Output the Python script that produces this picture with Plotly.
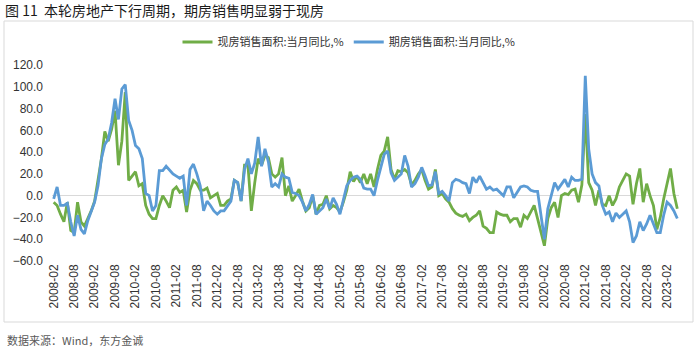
import plotly.graph_objects as go

# month categories 2008-02 .. 2023-05
months = []
y, m = 2008, 2
while (y, m) <= (2023, 5):
    months.append(f"{y}-{m:02d}")
    m += 1
    if m > 12:
        m = 1
        y += 1

tick_labels = months[::6]

existing_yoy = [
    -6, -9, -17, -24, -6, -32, -34, -6, -24, -28, -21, -14, -5, 15, 34, 59, 50, 61, 78, 28,
    50, 95, 14, 18, 22, 9, 11, -9, -17, -21, -21, -9, 0, -5, -11, 5, 8, 3, 5, -15,
    5, 14, 11,
    5, 5, 7, -2, 0, 2, -9, -9, -5, -3, 14, 12, -5, 28, 28, -14, 12, 34, 28, 37,
    35, 20, 17, 20, 35, 0, 9, -5, 0, 6, -5, -14, -11, 0, -17, -9, -8, 0, -12, -9,
    -11, -15, -6, 5, 22, 13, 18, 12, 20, 11, 20, 8, 24, 37, 41, 54, 24, 15, 23, 22,
    24, 21, 10, 14, 20, 24, 14, 6, 8, 24, 0, 2, -3,
    -6, -12, -16, -18, -19, -17, -23, -20, -18, -14, -28, -30, -34, -34, -15, -17, -18, -18, -24, -21,
    -21, -29, -18, -21, -15, -9, -21, -34, -46, -21, -11, -6, -20, 0, 2, 1, 5, 6, -6, 10,
    75, 12, 5, -9, 5, -8, -9, 0, -9, -3, 8, 14, 20, 18, -8, 11, 25, -6, 11, 0,
    -9, -31, -20, -3, 11, 25, 2, -12,
]

presale_yoy = [
    -3, 8, -9, -9, -7, -24, -37, -18, -31, -35, -23, -15, -6, 9, 34, 47, 52, 67, 89, 70,
    98, 102, 69, 60, 46, 43, 34, 2, 0, -14, -9, 23, 23, 27, 23, 20, 18, 16, 18, -9,
    24, 29, 20,
    9, -14, -5, -9, -14, -17, -14, -14, -9, -5, 14, 12, -5, 24, 34, 20, 30, 54, 27, 43,
    31, 8, 11, 8, 20, 17, 16, 3, 2, 0, -6, -14, -8, 1, -17, -14, -11, -3, -12, -2,
    -8, -17, -5, 9, 14, 17, 18, 15, 7, 6, 6, 0, 14, 27, 38, 41, 21, 14, 17, 20,
    37, 27, 8, 11, 17, 26, 18, 9, 10, 22, 2, 4, 0,
    -5, 12, 15, 14, 12, 11, 2, 17, 12, 18, 12, 6, 8, 5, 6, 3, 0, 8, 8, -2,
    3, 8, 9, 8, 5, 4, 4, -18, -40, -12, 0, 12, 6, 11, 15, 8, 17, 14, 14, 15,
    110, 43, 20, 12, 9, -9, -17, -15, -24, -16, -20, -17, -14, -24, -43, -37, -24, -32, -26, -18,
    -26, -34, -34, -18, -6, -9, -14, -21,
]

series_names = ["现房销售面积:当月同比,%", "期房销售面积:当月同比,%"]
colors = ["#70ad47", "#5b9bd5"]

W, H = 700, 351
L, R, T, B = 52, 21, 65, 90
pw, ph = W - L - R, H - T - B


def px(x):
    return (x - L) / pw


def py(y):
    return (H - B - y) / ph


fig = go.Figure()
for name, vals, c in zip(series_names, [existing_yoy, presale_yoy], colors):
    fig.add_trace(go.Scatter(x=months, y=vals, mode="lines", name=name,
                             line=dict(color=c, width=2.8)))

fig.update_layout(
    width=W, height=H,
    margin=dict(l=L, r=R, t=T, b=B),
    paper_bgcolor="white", plot_bgcolor="white",
    font=dict(family="Liberation Sans, Arial, sans-serif", size=12, color="#333333"),
    title=dict(text="图 11  本轮房地产下行周期，期房销售明显弱于现房",
               x=5 / W, y=1 - 11 / H, xref="container", yref="container",
               xanchor="left", yanchor="middle",
               font=dict(family="Noto Sans CJK SC", size=14, color="#1a1a1a")),
    showlegend=True,
    legend=dict(orientation="h", x=px(349), y=py(42), xanchor="center", yanchor="middle",
                font=dict(family="Noto Sans CJK SC", size=11, color="#333333"),
                bgcolor="rgba(0,0,0,0)", tracegroupgap=0, itemwidth=30),
    xaxis=dict(type="category", range=[-0.5, len(months) - 0.5],
               tickmode="array", tickvals=tick_labels, ticktext=tick_labels,
               tickangle=-90, showgrid=False, showline=False, zeroline=False,
               ticks="", tickfont=dict(size=12, color="#333333")),
    yaxis=dict(range=[-60, 120], tickmode="array",
               tickvals=[-60, -40, -20, 0, 20, 40, 60, 80, 100, 120],
               tickformat=".1f", showgrid=False, showline=False,
               zeroline=True, zerolinecolor="#d9d9d9", zerolinewidth=1.2,
               ticks="", ticklabelstandoff=8, tickfont=dict(size=12, color="#333333")),
    shapes=[dict(type="rect", xref="paper", yref="paper",
                 x0=px(4), x1=px(693), y0=py(322), y1=py(21),
                 line=dict(color="#d9d9d9", width=1), layer="below")],
    annotations=[dict(text="数据来源：Wind，东方金诚", xref="paper", yref="paper",
                      x=px(5), y=py(340), xanchor="left", yanchor="middle",
                      showarrow=False,
                      font=dict(family="Noto Sans CJK SC", size=11, color="#595959"))],
)

fig.write_html("out.html")
